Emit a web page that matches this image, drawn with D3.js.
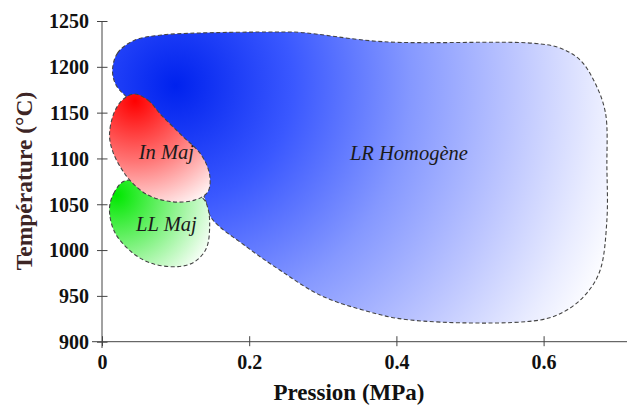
<!DOCTYPE html>
<html><head><meta charset="utf-8">
<script src="https://cdn.jsdelivr.net/npm/d3@7"></script>
<style>body{margin:0;background:#fff}svg{display:block}</style>
</head><body>
<svg id="c" width="627" height="405"></svg>
<script>
// ---- data (pressure MPa, temperature °C) ----
const xTicks = [0, 0.2, 0.4, 0.6];
const yTicks = [900, 950, 1000, 1050, 1100, 1150, 1200, 1250];
const xLabel = "Pression (MPa)";
const yLabel = "Température (°C)";

const lrHomogene = [
  [0.0143,1196.5],[0.0211,1215],[0.0442,1229],[0.0805,1234.7],[0.1327,1236.9],
  [0.2347,1238],[0.2687,1237.6],[0.3816,1227.4],[0.5857,1225.7],[0.6224,1220.5],
  [0.6497,1207.4],[0.6695,1183],[0.684,1150],[0.686,1090],[0.686,1032.8],
  [0.6769,978.2],[0.6588,953.1],[0.6316,934.5],[0.5952,923.7],[0.4184,923.7],
  [0.3544,934.6],[0.2959,951],[0.2415,978.2],[0.1962,1003.7],[0.1486,1035],
  [0.1395,1056.8],[0.119,1098.3],[0.0646,1147.5],[0.0306,1169.3],[0.0184,1181.2]
];
const inMaj = [
  [0.0442,1170.3],[0.0623,1163.8],[0.0805,1147.4],[0.1078,1125.6],[0.135,1103.8],
  [0.1463,1081.9],[0.1439,1063.7],[0.1259,1054.5],[0.0941,1052.8],[0.0623,1060.1],
  [0.0397,1074.6],[0.0261,1089.2],[0.0147,1107.4],[0.0102,1125.6],[0.017,1151],
  [0.0293,1164.9]
];
const llMaj = [
  [0.0306,1075.4],[0.017,1063.4],[0.0102,1045.9],[0.017,1020],[0.0397,998.2],
  [0.0669,985.6],[0.1031,981.9],[0.1259,987.3],[0.1418,1001.9],[0.1463,1027.4],
  [0.1439,1045.6],[0.1371,1056.5],[0.1122,1062.3],[0.0646,1073.2]
];
const regionNames = ["LR Homogène", "In Maj", "LL Maj"];
const labelPos = [[0.417,1098],[0.0875,1099],[0.0875,1021]];

// ---- scales ----
const x = d3.scaleLinear().domain([0, 0.7]).range([102, 102 + 0.7*736]);
const y = d3.scaleLinear().domain([900, 1250]).range([341.7, 21]);

const svg = d3.select("#c");
const defs = svg.append("defs");

function radial(id, c, r, stops){
  const g = defs.append("radialGradient").attr("id", id)
    .attr("gradientUnits","userSpaceOnUse")
    .attr("cx", x(c[0])).attr("cy", y(c[1])).attr("r", r);
  stops.forEach(s => g.append("stop").attr("offset", s[0]).attr("stop-color", s[1]));
}
radial("gBlue", [0.1, 1180], 470, [[0,"#0022ee"],[0.25,"#3a58ff"],[0.5,"#8598ff"],[0.72,"#bcc5ff"],[0.9,"#e9ecff"],[1,"#ffffff"]]);
radial("gRed", [0.045, 1163], 122, [[0,"#ff0000"],[0.5,"#ff7575"],[1,"#ffffff"]]);
radial("gGreen", [0.02, 1060], 108, [[0,"#00e800"],[0.5,"#80f280"],[1,"#ffffff"]]);

const line = d3.line().x(d => x(d[0])).y(d => y(d[1])).curve(d3.curveCatmullRomClosed.alpha(0.5));

const regions = [[lrHomogene,"gBlue"],[llMaj,"gGreen"],[inMaj,"gRed"]];
svg.selectAll("path.region").data(regions).join("path")
  .attr("class","region")
  .attr("d", d => line(d[0]))
  .attr("fill", d => `url(#${d[1]})`)
  .attr("stroke", "#444").attr("stroke-width", 1.1)
  .attr("stroke-dasharray", "4,2.5");

// region labels
svg.selectAll("text.rl").data(regionNames).join("text")
  .attr("class","rl")
  .attr("x", (d,i) => x(labelPos[i][0])).attr("y", (d,i) => y(labelPos[i][1]))
  .attr("text-anchor","middle")
  .attr("font-family","'Liberation Serif', 'Times New Roman', serif")
  .attr("font-style","italic").attr("font-size", 20.5).attr("fill","#1a1a1a")
  .text(d => d);

// ---- axes ----
const axisColor = "#444";
const xAxis = svg.append("g").attr("transform", `translate(0,${y(900)})`)
  .call(d3.axisBottom(x).tickValues(xTicks).tickFormat(d => d === 0 ? "0" : d3.format(".1f")(d)).tickSize(0));
xAxis.select(".domain").remove();
xAxis.append("line").attr("x1", 92).attr("x2", 627).attr("stroke", axisColor);
xAxis.selectAll(".tick").append("line").attr("y1",-5.5).attr("y2",4.5).attr("stroke",axisColor);
xAxis.selectAll(".tick text").attr("y", 27).attr("dy", 0);

const yAxis = svg.append("g").attr("transform", `translate(${x(0)},0)`)
  .call(d3.axisLeft(y).tickValues(yTicks).tickFormat(d3.format("d")).tickSize(0));
yAxis.select(".domain").remove();
yAxis.append("line").attr("y1", y(1250)).attr("y2", 348).attr("stroke", axisColor);
yAxis.selectAll(".tick").append("line").attr("x1",-5).attr("x2",5.5).attr("stroke",axisColor);
yAxis.selectAll(".tick text").attr("x", -13).attr("dy", "0.34em");

svg.selectAll(".tick text")
  .attr("font-family","'Liberation Serif', 'Times New Roman', serif")
  .attr("font-weight","bold").attr("font-size", 20).attr("fill","#111");

svg.append("text").attr("x", 349).attr("y", 400).attr("text-anchor","middle")
  .attr("font-family","'Liberation Serif', 'Times New Roman', serif")
  .attr("font-weight","bold").attr("font-size", 23).attr("fill","#111").text(xLabel);

svg.append("text").attr("transform","translate(32,181) rotate(-90)").attr("text-anchor","middle")
  .attr("font-family","'Liberation Serif', 'Times New Roman', serif")
  .attr("font-weight","bold").attr("font-size", 23.5).attr("fill","#3d2525").text(yLabel);
</script>
</body></html>
